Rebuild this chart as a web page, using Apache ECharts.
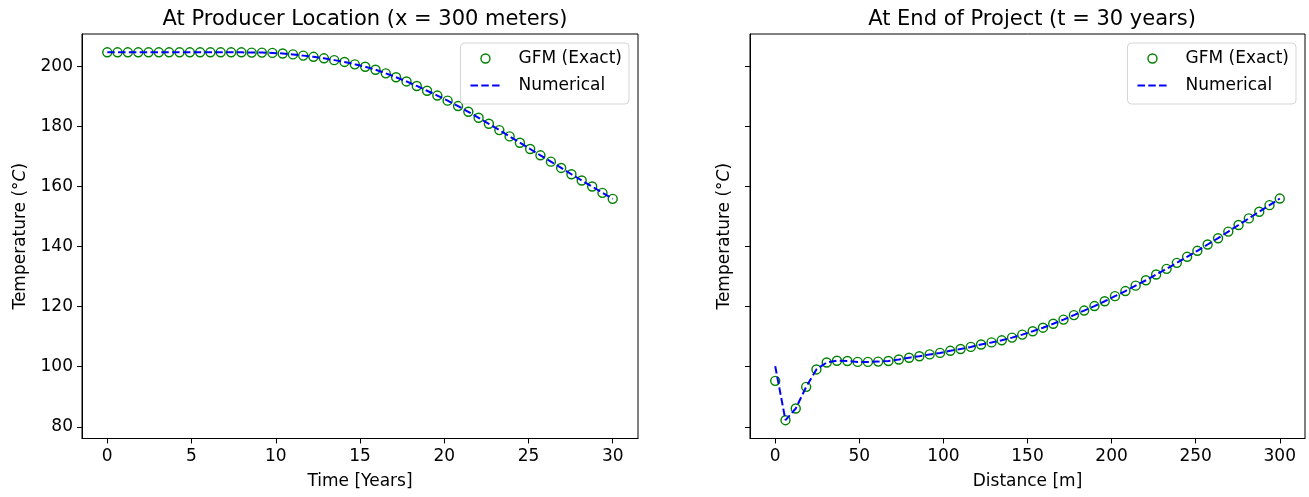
<!DOCTYPE html>
<html>
<head>
<meta charset="utf-8">
<script src="https://cdn.jsdelivr.net/npm/echarts@6/dist/echarts.min.js"></script>
<style>
html,body{margin:0;padding:0;background:#fff;}
#chart{width:1309px;height:497px;}
</style>
</head>
<body>
<div id="chart"></div>
<script>
// ---- Data ----
const timeYears = [0, 0.61, 1.22, 1.84, 2.45, 3.06, 3.67, 4.29, 4.90, 5.51, 6.12, 6.73, 7.35, 7.96, 8.57, 9.18, 9.80, 10.41, 11.02, 11.63, 12.24, 12.86, 13.47, 14.08, 14.69, 15.31, 15.92, 16.53, 17.14, 17.76, 18.37, 18.98, 19.59, 20.20, 20.82, 21.43, 22.04, 22.65, 23.27, 23.88, 24.49, 25.10, 25.71, 26.33, 26.94, 27.55, 28.16, 28.78, 29.39, 30.00];
const producerGFM = [204.7, 204.7, 204.7, 204.7, 204.7, 204.7, 204.7, 204.7, 204.7, 204.7, 204.7, 204.7, 204.7, 204.7, 204.6, 204.6, 204.5, 204.3, 204.0, 203.6, 203.2, 202.7, 202.1, 201.5, 200.7, 199.9, 198.9, 197.7, 196.4, 195.0, 193.5, 191.9, 190.3, 188.6, 186.8, 184.9, 182.9, 180.9, 178.8, 176.7, 174.6, 172.5, 170.4, 168.3, 166.2, 164.1, 162.0, 160.0, 157.9, 155.9];
const producerNumerical = [204.7, 204.7, 204.7, 204.7, 204.7, 204.7, 204.7, 204.7, 204.7, 204.7, 204.7, 204.7, 204.7, 204.7, 204.6, 204.6, 204.5, 204.3, 204.0, 203.6, 203.2, 202.7, 202.1, 201.5, 200.7, 199.9, 198.9, 197.7, 196.4, 195.0, 193.5, 191.9, 190.3, 188.6, 186.8, 184.9, 182.9, 180.9, 178.8, 176.7, 174.6, 172.5, 170.4, 168.3, 166.2, 164.1, 162.0, 160.0, 157.9, 155.9];

const distanceM = [0, 6.1, 12.2, 18.4, 24.5, 30.6, 36.7, 42.9, 49.0, 55.1, 61.2, 67.3, 73.5, 79.6, 85.7, 91.8, 98.0, 104.1, 110.2, 116.3, 122.4, 128.6, 134.7, 140.8, 146.9, 153.1, 159.2, 165.3, 171.4, 177.6, 183.7, 189.8, 195.9, 202.0, 208.2, 214.3, 220.4, 226.5, 232.7, 238.8, 244.9, 251.0, 257.1, 263.3, 269.4, 275.5, 281.6, 287.8, 293.9, 300.0];
const endGFM = [95.3, 82.2, 86.1, 93.3, 99.1, 101.4, 102.0, 101.9, 101.6, 101.6, 101.7, 101.9, 102.4, 103.0, 103.5, 104.1, 104.6, 105.3, 105.9, 106.6, 107.4, 108.1, 108.8, 109.7, 110.7, 111.8, 113.0, 114.3, 115.7, 117.2, 118.7, 120.2, 121.8, 123.5, 125.2, 127.0, 128.8, 130.7, 132.6, 134.6, 136.6, 138.6, 140.7, 142.8, 145.0, 147.2, 149.4, 151.6, 153.8, 156.0];
const endNumerical = [100.2, 82.2, 86.1, 93.3, 99.1, 101.4, 102.0, 101.9, 101.6, 101.6, 101.7, 101.9, 102.4, 103.0, 103.5, 104.1, 104.6, 105.3, 105.9, 106.6, 107.4, 108.1, 108.8, 109.7, 110.7, 111.8, 113.0, 114.3, 115.7, 117.2, 118.7, 120.2, 121.8, 123.5, 125.2, 127.0, 128.8, 130.7, 132.6, 134.6, 136.6, 138.6, 140.7, 142.8, 145.0, 147.2, 149.4, 151.6, 153.8, 156.0];

const timeTicks = [0, 5, 10, 15, 20, 25, 30];
const distanceTicks = [0, 50, 100, 150, 200, 250, 300];
const tempTicks = [80, 100, 120, 140, 160, 180, 200];

const titles = ['At Producer Location (x = 300 meters)', 'At End of Project (t = 30 years)'];
const seriesNames = ['GFM (Exact)', 'Numerical'];

// ---- Chart ----
const FONT = 'DejaVu Sans';
const FS = 17;
const pair = (xs, ys) => xs.map((x, i) => [x, ys[i]]);

function xAxisCfg(idx, min, max, ticks, name) {
  return {
    gridIndex: idx, type: 'value', min: min, max: max,
    splitLine: {show: false},
    axisLine: {show: true, onZero: false, lineStyle: {color: '#000', width: 1}},
    axisTick: {show: true, customValues: ticks, length: 5, lineStyle: {color: '#000'}},
    axisLabel: {customValues: ticks, margin: 10, fontSize: FS, color: '#000', fontFamily: FONT},
    name: name, nameLocation: 'middle', nameGap: 35,
    nameTextStyle: {fontSize: FS, color: '#000', fontFamily: FONT}
  };
}
function yAxisCfg(idx, showLabels) {
  return {
    gridIndex: idx, type: 'value', min: 76.1, max: 210.8,
    splitLine: {show: false},
    axisLine: {show: true, onZero: false, lineStyle: {color: '#000', width: 1}},
    axisTick: {show: true, customValues: tempTicks, length: 5, lineStyle: {color: '#000'}},
    axisLabel: {show: showLabels, customValues: tempTicks, margin: 9, fontSize: FS, color: '#000', fontFamily: FONT},
    name: '{n|Temperature (°}{i|C}{n|)}', nameLocation: 'middle', nameGap: showLabels ? 53 : 16.5,
    nameTextStyle: {color: '#000', rich: {
      n: {fontSize: FS, color: '#000', fontFamily: FONT},
      i: {fontSize: FS, color: '#000', fontFamily: FONT, fontStyle: 'italic'}
    }}
  };
}
function legendCfg(right) {
  return {
    orient: 'vertical', right: right, top: 43,
    backgroundColor: 'rgba(255,255,255,0.8)', borderColor: '#d5d5d5', borderWidth: 1, borderRadius: 4,
    padding: [7, 7, 10, 9], itemGap: 10, itemWidth: 30, itemHeight: 9,
    textStyle: {fontSize: FS, color: '#000', fontFamily: FONT, padding: [0, 0, 0, 13]},
    data: [
      {name: seriesNames[0], icon: 'circle', itemStyle: {color: 'rgba(0,0,0,0)', borderColor: '#008000', borderWidth: 1.4}},
      {name: seriesNames[1], itemStyle: {color: 'rgba(0,0,0,0)', borderColor: 'rgba(0,0,0,0)', borderWidth: 0}}
    ]
  };
}
function scatterCfg(idx, data) {
  return {
    name: seriesNames[0], type: 'scatter', xAxisIndex: idx, yAxisIndex: idx,
    data: data, symbol: 'circle', symbolSize: 9,
    itemStyle: {color: 'rgba(0,0,0,0)', borderColor: '#008000', borderWidth: 1.4, opacity: 1},
    z: 2, silent: true
  };
}
function lineCfg(idx, data) {
  return {
    name: seriesNames[1], type: 'line', xAxisIndex: idx, yAxisIndex: idx,
    data: data, showSymbol: false, symbol: 'none',
    lineStyle: {color: '#0000ff', width: 2, type: [7.5, 3.3]},
    itemStyle: {color: '#0000ff'},
    z: 3, silent: true, animation: false
  };
}

const chart = echarts.init(document.getElementById('chart'), null, {renderer: 'canvas'});
chart.setOption({
  animation: false,
  backgroundColor: '#fff',
  title: [
    {text: titles[0], left: 360, textAlign: 'center', top: 4, textStyle: {fontSize: 21, fontWeight: 'normal', color: '#000', fontFamily: FONT}},
    {text: titles[1], left: 1027, textAlign: 'center', top: 4, textStyle: {fontSize: 21, fontWeight: 'normal', color: '#000', fontFamily: FONT}}
  ],
  grid: [
    {left: 82, top: 34, width: 556, height: 404.5, show: true, borderColor: '#000', borderWidth: 1, backgroundColor: 'rgba(0,0,0,0)'},
    {left: 750, top: 34, width: 555, height: 404.5, show: true, borderColor: '#000', borderWidth: 1, backgroundColor: 'rgba(0,0,0,0)'}
  ],
  xAxis: [
    xAxisCfg(0, -1.5, 31.5, timeTicks, 'Time [Years]'),
    xAxisCfg(1, -15, 315, distanceTicks, 'Distance [m]')
  ],
  yAxis: [yAxisCfg(0, true), yAxisCfg(1, false)],
  legend: [legendCfg(680), legendCfg(13)],
  series: [
    scatterCfg(0, pair(timeYears, producerGFM)),
    lineCfg(0, pair(timeYears, producerNumerical)),
    scatterCfg(1, pair(distanceM, endGFM)),
    lineCfg(1, pair(distanceM, endNumerical))
  ]
});
</script>
</body>
</html>
